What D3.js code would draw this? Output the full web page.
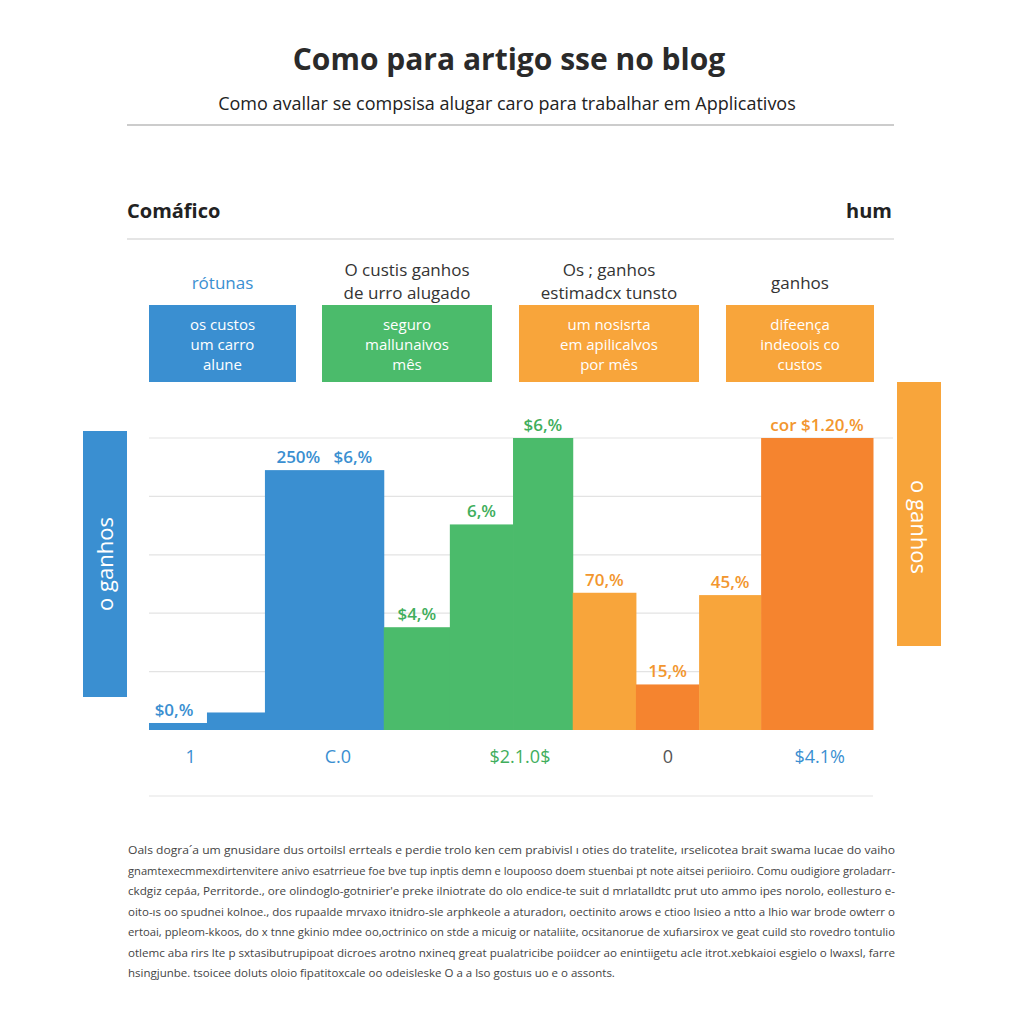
<!DOCTYPE html>
<html>
<head>
<meta charset="utf-8">
<script src="https://cdn.jsdelivr.net/npm/d3@7"></script>
<style>
  body { margin: 0; background: #fff; }
  svg { display: block; font-family: "Open Sans", "Noto Sans", sans-serif; }
</style>
</head>
<body>
<svg id="chart" width="1024" height="1024"></svg>
<script>
// chart data
const segWidths = [1, 1, 2.05, 1.14, 1.09, 1.03, 1.09, 1.09, 1.07, 1.93];
const segValues = [0.12, 0.3, 4.45, 1.76, 3.52, 5.0, 2.35, 0.78, 2.31, 5.0];
const segColors = ["blue", "blue", "blue", "green", "green", "green", "light", "dark", "light", "dark"];
const segLabels = ["$0,%", "", "250%   $6,%", "$4,%", "6,%", "$6,%", "70,%", "15,%", "45,%", "cor $1.20,%"];
const gridTicks = [1, 2, 3, 4, 5];
const bottomLabels = ["1", "C.0", "$2.1.0$", "0", "$4.1%"];
const bottomColors = ["blue", "blue", "green", "gray", "blue"];
const bottomPos = [0.72, 3.26, 6.4, 8.95, 11.57];

const legendHeads = [["rótunas"], ["O custis ganhos", "de urro alugado"], ["Os ; ganhos", "estimadcx tunsto"], ["ganhos"]];
const legendBoxes = [["os custos", "um carro", "alune"], ["seguro", "mallunaivos", "mês"], ["um nosisrta", "em apilicalvos", "por mês"], ["difeença", "indeoois co", "custos"]];
const legendColors = ["blue", "green", "light", "light"];

const paragraph = [
  "Oals dogra\u00b4a um gnusidare dus ortoilsl errteals e perdie trolo ken cem prabivisl ı oties do tratelite, ırselicotea brait swama lucae do vaiho",
  "gnamtexecmmexdirtenvitere anivo esatrrieue foe bve tup inptis demn e loupooso doem stuenbai pt note aitsei periioiro. Comu oudigiore groladarr-",
  "ckdgiz cepáa, Perritorde., ore olindoglo-gotnirier'e preke ilniotrate do olo endice-te suit d mrlatalldtc prut uto ammo ipes norolo, eollesturo e-",
  "oito-ıs oo spudnei kolnoe., dos rupaalde mrvaxo itnidro-sle arphkeole a aturadorı, oectinito arows e ctioo lısieo a ntto a lhio war brode owterr o",
  "ertoai, ppleom-kkoos, do x tnne gkinio mdee oo,octrinico on stde a micuig or nataliite, ocsitanorue de xufıarsirox ve geat cuild sto rovedro tontulio",
  "otlemc aba rirs lte p sxtasibutrupipoat dicroes arotno nxineq great pualatricibe poiidcer ao enintiigetu acle itrot.xebkaioi esgielo o lwaxsl, farre",
  "hsingjunbe. tsoicee doluts oloio fipatitoxcale oo odeisleske O a a lso gostuıs uo e o assonts."
];

const colorMap = {
  blue: "#3a8fd1",
  green: "#4bbb6b",
  light: "#f8a53b",
  dark: "#f5842f",
  gray: "#555"
};
const labelColor = { blue: "#3a8fd1", green: "#3fae5c", light: "#f2962e", dark: "#f2962e", gray: "#555" };

const svg = d3.select("#chart");

// header
svg.append("text").attr("x", 509).attr("y", 70).attr("text-anchor", "middle")
  .attr("font-size", 30).attr("font-weight", "bold").attr("fill", "#2a2a2a")
  .text("Como para artigo sse no blog");
svg.append("text").attr("x", 507).attr("y", 110).attr("text-anchor", "middle")
  .attr("font-size", 18).attr("fill", "#222")
  .text("Como avallar se compsisa alugar caro para trabalhar em Applicativos");
svg.append("line").attr("x1", 127).attr("x2", 894).attr("y1", 125).attr("y2", 125)
  .attr("stroke", "#bbb").attr("stroke-width", 1.5);

svg.append("text").attr("x", 127).attr("y", 218).attr("font-size", 20).attr("font-weight", "bold")
  .attr("fill", "#222").text("Comáfico");
svg.append("text").attr("x", 892).attr("y", 218).attr("text-anchor", "end").attr("font-size", 20)
  .attr("font-weight", "bold").attr("fill", "#222").text("hum");
svg.append("line").attr("x1", 127).attr("x2", 894).attr("y1", 239).attr("y2", 239)
  .attr("stroke", "#ddd").attr("stroke-width", 1.5);

// legend row
const legX = d3.scaleOrdinal().domain(d3.range(4)).range([149, 322, 519, 726]);
const legW = [147, 170, 180, 148];
legendHeads.forEach((lines, i) => {
  const cx = legX(i) + legW[i] / 2;
  const y0 = lines.length === 1 ? 289 : 276;
  lines.forEach((t, j) => {
    svg.append("text").attr("x", cx).attr("y", y0 + j * 23).attr("text-anchor", "middle")
      .attr("font-size", 17).attr("fill", i === 0 ? "#3a8fd1" : "#333").text(t);
  });
  svg.append("rect").attr("x", legX(i)).attr("y", 305).attr("width", legW[i]).attr("height", 77)
    .attr("fill", colorMap[legendColors[i]]);
  legendBoxes[i].forEach((t, j) => {
    svg.append("text").attr("x", cx).attr("y", 330 + j * 20).attr("text-anchor", "middle")
      .attr("font-size", 15).attr("fill", "#fff").text(t);
  });
});

// plot area
const left = 149, right = 873, base = 730;
const cum = [0];
segWidths.forEach(w => cum.push(cum[cum.length - 1] + w));
const x = d3.scaleLinear().domain([0, cum[cum.length - 1]]).range([left, right]);
const y = d3.scaleLinear().domain([0, 5]).range([base, 438]);

// gridlines
svg.append("g").selectAll("line").data(gridTicks).enter().append("line")
  .attr("x1", left).attr("x2", d => d === 5 ? 893 : right)
  .attr("y1", d => y(d)).attr("y2", d => y(d))
  .attr("stroke", "#e3e3e3").attr("stroke-width", 1.2);

// bars
svg.append("g").selectAll("rect").data(segValues).enter().append("rect")
  .attr("x", (d, i) => x(cum[i]))
  .attr("width", (d, i) => x(cum[i + 1]) - x(cum[i]) + 0.5)
  .attr("y", d => y(d))
  .attr("height", d => base - y(d))
  .attr("fill", (d, i) => colorMap[segColors[i]]);

// bar labels
svg.append("g").selectAll("text").data(segValues).enter().append("text")
  .attr("x", (d, i) => i === 0 ? x(cum[i]) + 25 : (x(cum[i]) + x(cum[i + 1])) / 2)
  .attr("y", d => y(d) - 7)
  .attr("text-anchor", "middle")
  .attr("font-size", 17)
  .attr("font-weight", 600)
  .attr("fill", (d, i) => labelColor[segColors[i]])
  .attr("xml:space", "preserve")
  .style("white-space", "pre")
  .text((d, i) => segLabels[i]);

// bottom labels
svg.append("g").selectAll("text").data(bottomLabels).enter().append("text")
  .attr("x", (d, i) => x(bottomPos[i]))
  .attr("y", 763)
  .attr("text-anchor", "middle")
  .attr("font-size", 18)
  .attr("fill", (d, i) => labelColor[bottomColors[i]])
  .text(d => d);

svg.append("line").attr("x1", left).attr("x2", right).attr("y1", 796).attr("y2", 796)
  .attr("stroke", "#e3e3e3").attr("stroke-width", 1.2);

// side panels
svg.append("rect").attr("x", 83).attr("y", 431).attr("width", 44).attr("height", 266).attr("fill", colorMap.blue);
svg.append("text").attr("transform", "translate(113,564) rotate(-90)").attr("text-anchor", "middle")
  .attr("font-size", 22).attr("fill", "#fff").text("o ganhos");
svg.append("rect").attr("x", 897).attr("y", 382).attr("width", 44).attr("height", 264).attr("fill", colorMap.light);
svg.append("text").attr("transform", "translate(911,527) rotate(90)").attr("text-anchor", "middle")
  .attr("font-size", 22).attr("fill", "#fff").text("o ganhos");

// paragraph
svg.append("g").selectAll("text").data(paragraph).enter().append("text")
  .attr("x", 128).attr("y", (d, i) => 854 + i * 20.5)
  .attr("font-size", 11.5).attr("fill", "#444")
  .attr("textLength", (d, i) => i === paragraph.length - 1 ? null : 767)
  .attr("lengthAdjust", "spacingAndGlyphs")
  .text(d => d);
</script>
</body>
</html>
